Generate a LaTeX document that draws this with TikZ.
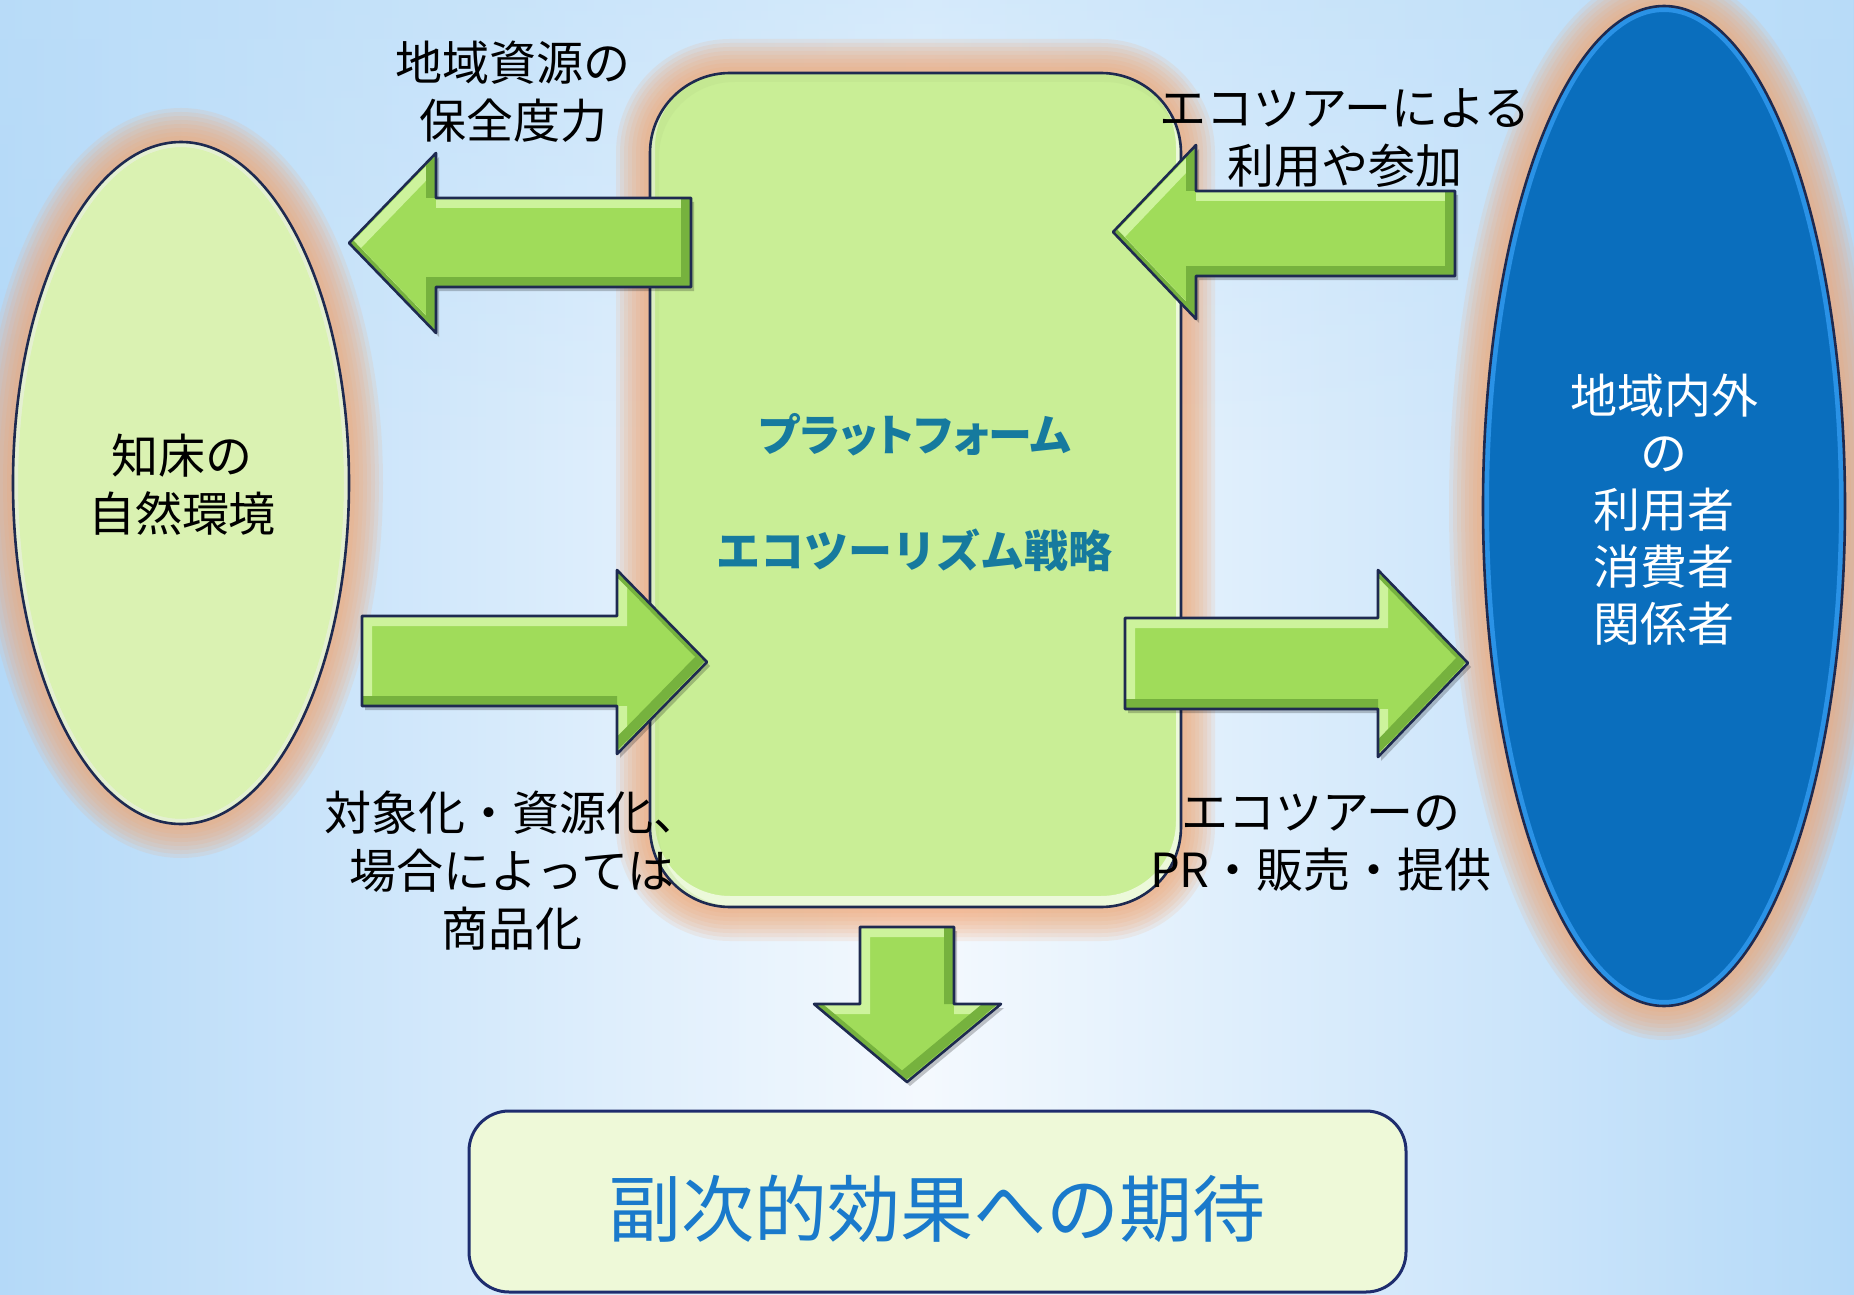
\documentclass[tikz,border=0pt]{standalone}
\usepackage{fontspec}
\usetikzlibrary{fadings}
\newfontfamily\jp{Noto Sans CJK JP}
\newfontfamily\jpp[RawFeature=+palt]{Noto Sans CJK JP}

\definecolor{bgblue}{HTML}{B4D9F8}
\definecolor{bgwhite}{HTML}{F4F9FE}
\definecolor{bgtop}{HTML}{BCDEF9}
\definecolor{glowc}{HTML}{F2A672}
\definecolor{navy}{HTML}{1E2A50}
\definecolor{arrfill}{HTML}{A0DC5A}
\definecolor{arrlight}{HTML}{CDF39C}
\definecolor{arrdark}{HTML}{76B23E}
\definecolor{natfill}{HTML}{DAF2B2}
\definecolor{platfill}{HTML}{C9EE96}
\definecolor{userfill}{HTML}{0A6EBD}
\definecolor{userlight}{HTML}{2A92E6}
\definecolor{tealtxt}{HTML}{167A9E}
\definecolor{boxfill}{HTML}{EEF9D8}
\definecolor{boxline}{HTML}{1E2D6E}
\definecolor{boxtext}{HTML}{1A7ACB}

\tikzfading[name=topopaque, top color=transparent!0, bottom color=transparent!100]

\newcommand\glowpath[1]{%
  \foreach \w in {34pt,30pt,26pt,22pt,18pt,14pt,10pt,6pt}{\draw[glowc, line width=\w, draw opacity=0.14] #1;}%
}
% #1 path, #2 fill colour, #3 light rim style, #4 dark rim style
\newcommand\bevelshape[4]{%
  \begin{scope}
    \clip #1;
    \fill[#2] #1;
    \draw[line width=5pt, #3] #1;
    \draw[line width=5pt, #4] #1;
  \end{scope}
  \draw[navy, line width=1.3pt, line join=round] #1;
}
\newcommand\blockarrow[1]{%
  \fill[black, opacity=0.22, shift={(3,4)}] #1;
  \bevelshape{#1}{arrfill}{arrlight, shift={(5,5)}}{arrdark, shift={(-5,-5)}}%
}

\tikzset{
  lbl/.style={inner sep=0pt, align=center, text=black, font=\jp\fontsize{23.5}{29}\selectfont},
  userlbl/.style={inner sep=0pt, align=center, text=white, font=\jp\fontsize{23.5}{28.5}\selectfont},
  platlbl/.style={inner sep=0pt, text=tealtxt, font=\jp\bfseries\fontsize{22}{26}\selectfont},
  resultlbl/.style={inner sep=0pt, text=boxtext, font=\jp\fontsize{36.5}{42}\selectfont},
}

\begin{document}
\begin{tikzpicture}[x=0.5pt, y=-0.5pt]
\useasboundingbox (0,0) rectangle (1854,1295);

% background
\shade[left color=bgblue, right color=bgblue, middle color=bgwhite] (0,0) rectangle (1854,1295);
\fill[bgtop, path fading=topopaque, fill opacity=0.55] (0,0) rectangle (1854,450);

% named anchor points of the main shapes
\coordinate (nature) at (181,483);
\coordinate (platform) at (915,490);
\coordinate (users) at (1664,506);
\coordinate (result) at (937,1201);

% glows
\glowpath{(nature) ellipse [x radius=168, y radius=341]}
\glowpath{(650,73) [rounded corners=40pt] rectangle (1181,907)}
\glowpath{(users) ellipse [x radius=181, y radius=500]}

% main shapes
\bevelshape{(nature) ellipse [x radius=168, y radius=341]}{natfill}{white!75!natfill, shift={(0,-6)}}{natfill!90!black, draw opacity=0.35, shift={(-4,0)}}
\bevelshape{(650,73) [rounded corners=40pt] rectangle (1181,907)}{platfill}{white!65!platfill, shift={(0,-6)}}{platfill!92!black, draw opacity=0.3, shift={(4,4)}}
\bevelshape{(users) ellipse [x radius=181, y radius=500]}{userfill}{userlight, line width=6pt, shift={(0,-6)}}{userlight, draw opacity=0.5, line width=3pt}

% result box
\draw[boxline, line width=1.5pt, fill=boxfill, rounded corners=20pt] (469,1111) rectangle (1406,1292);

% block arrows
\blockarrow{(691,198) -- (436,198) -- (436,153) -- (349,243) -- (436,333) -- (436,287) -- (691,287) -- cycle}
\blockarrow{(1455,191) -- (1196,191) -- (1196,145) -- (1113,232) -- (1196,319) -- (1196,276) -- (1455,276) -- cycle}
\blockarrow{(362,616) -- (617,616) -- (617,570) -- (707,662) -- (617,754) -- (617,706) -- (362,706) -- cycle}
\blockarrow{(1125,618) -- (1378,618) -- (1378,570) -- (1468,663) -- (1378,757) -- (1378,709) -- (1125,709) -- cycle}
\blockarrow{(860,927) -- (954,927) -- (954,1004) -- (1001,1004) -- (907,1082) -- (814,1004) -- (860,1004) -- cycle}

% texts
\node[lbl] (natlbl) at (182,485) {知床の\\自然環境};
\node[userlbl] (userstxt) at (1664,510) {地域内外\\の\\利用者\\消費者\\関係者};
\node[platlbl, font=\jpp\bfseries\fontsize{22}{26}\selectfont] (plat1) at (915,435) {プラットフォーム};
\node[platlbl] (plat2) at (914,550) {エコツーリズム戦略};
\node[lbl] (conserv) at (513,92) {地域資源の\\保全度力};
\node[lbl] (use) at (1345,138) {エコツアーによる\\利用や参加};
\node[lbl] (resource) at (512,871) {対象化・資源化、\\場合によっては\\商品化};
\node[lbl] (sell) at (1321,843) {エコツアーの\\PR・販売・提供};
\node[resultlbl] (resulttxt) at (937,1209) {副次的効果への期待};
\end{tikzpicture}
\end{document}
